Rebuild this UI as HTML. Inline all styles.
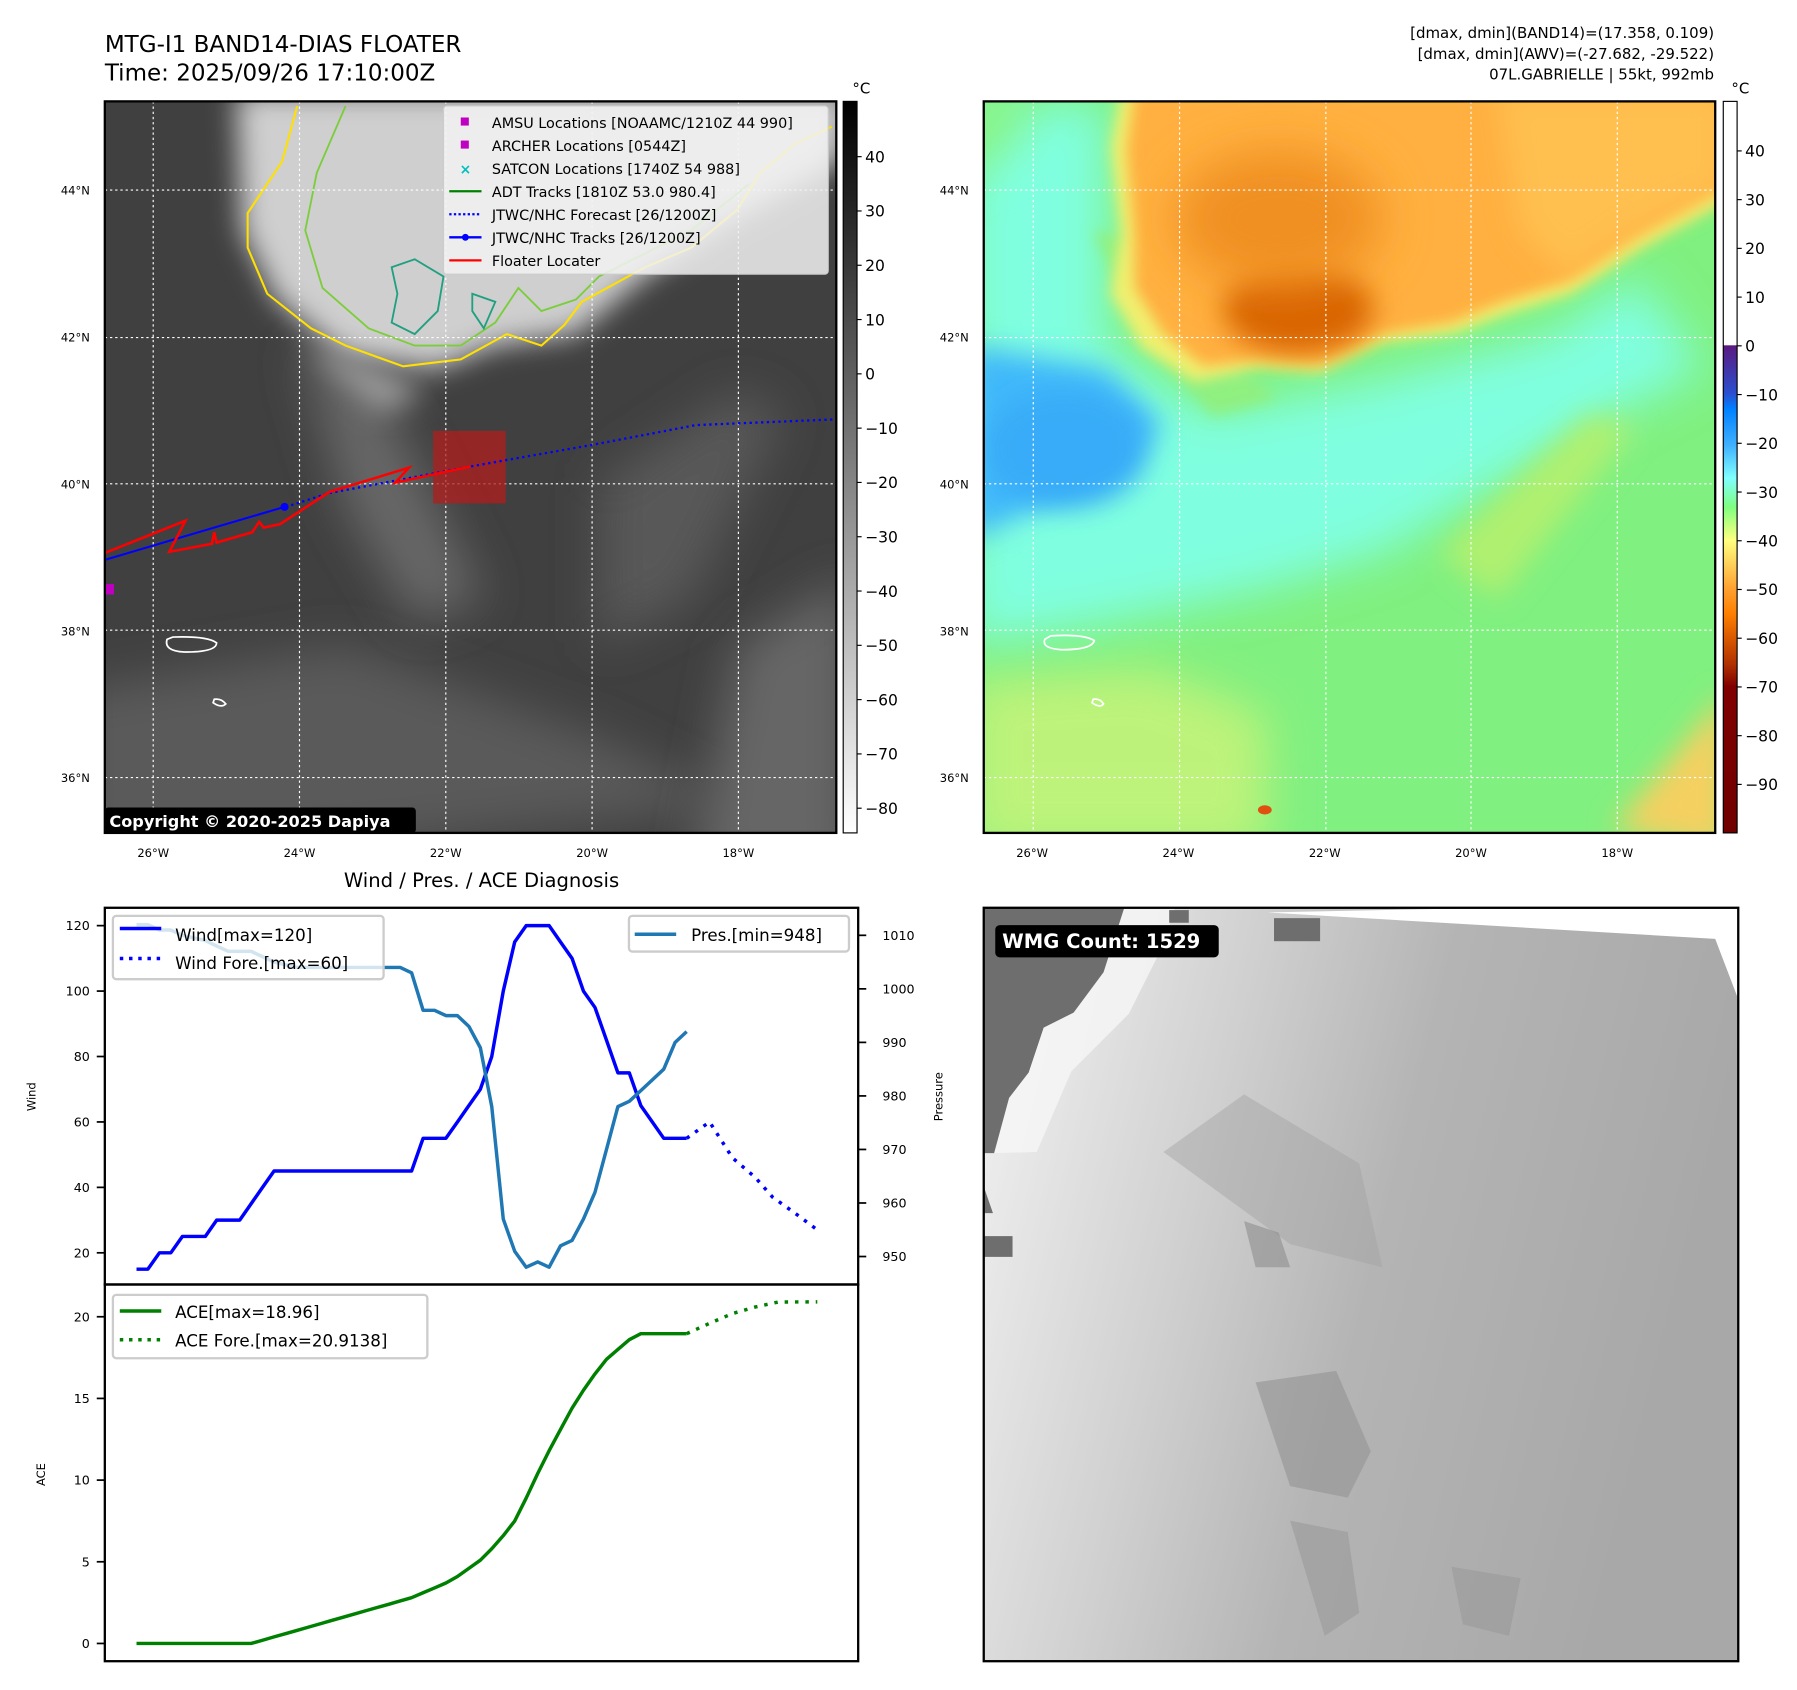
<!DOCTYPE html>
<html><head><meta charset="utf-8">
<style>
html,body{margin:0;padding:0;background:#fff;}
svg{display:block;}
text{font-family:"DejaVu Sans","Liberation Sans",sans-serif;}
</style></head>
<body>
<svg id="root" width="1797" height="1690" viewBox="0 0 1560 1467" preserveAspectRatio="none" xmlns="http://www.w3.org/2000/svg">
<defs>
<filter id="b6" x="-20%" y="-20%" width="140%" height="140%"><feGaussianBlur stdDeviation="6"/></filter>
<filter id="b12" x="-30%" y="-30%" width="160%" height="160%"><feGaussianBlur stdDeviation="12"/></filter>
<filter id="b20" x="-40%" y="-40%" width="180%" height="180%"><feGaussianBlur stdDeviation="20"/></filter>
<clipPath id="c1"><rect x="91" y="88" width="635" height="635"/></clipPath>
<clipPath id="c2"><rect x="854" y="88" width="635" height="635"/></clipPath>
<clipPath id="c3"><rect x="854" y="788" width="655" height="654"/></clipPath>
<linearGradient id="cb1" x1="0" y1="0" x2="0" y2="1"><stop offset="0" stop-color="#000"/><stop offset="1" stop-color="#fff"/></linearGradient>
<linearGradient id="cb2" x1="0" y1="0" x2="0" y2="1">
<stop offset="0" stop-color="#fff"/><stop offset="0.333" stop-color="#fff"/>
<stop offset="0.334" stop-color="#5a1a80"/><stop offset="0.40" stop-color="#2a50d0"/>
<stop offset="0.42" stop-color="#0080ff"/><stop offset="0.47" stop-color="#40b0ff"/>
<stop offset="0.515" stop-color="#80ffff"/><stop offset="0.555" stop-color="#80ff80"/>
<stop offset="0.60" stop-color="#ffff80"/><stop offset="0.667" stop-color="#ffa030"/>
<stop offset="0.70" stop-color="#ff8000"/><stop offset="0.77" stop-color="#b03000"/>
<stop offset="0.80" stop-color="#800000"/><stop offset="1" stop-color="#700000"/>
</linearGradient>
<linearGradient id="wmg" x1="0" y1="0" x2="1" y2="0.25"><stop offset="0" stop-color="#f4f4f4"/><stop offset="0.35" stop-color="#d0d0d0"/><stop offset="0.6" stop-color="#b4b4b4"/><stop offset="1" stop-color="#a8a8a8"/></linearGradient>
</defs>

<text x="91" y="45" font-size="20">MTG-I1 BAND14-DIAS FLOATER</text>
<text x="91" y="70" font-size="20">Time: 2025/09/26 17:10:00Z</text>
<text x="1488" y="33" font-size="13" text-anchor="end">[dmax, dmin](BAND14)=(17.358, 0.109)</text>
<text x="1488" y="51" font-size="13" text-anchor="end">[dmax, dmin](AWV)=(-27.682, -29.522)</text>
<text x="1488" y="69" font-size="13" text-anchor="end">07L.GABRIELLE | 55kt, 992mb</text>

<!-- MAP 1 -->
<g clip-path="url(#c1)">
<rect x="91" y="88" width="635" height="635" fill="#404040"/>
<path d="M60 600 L300 560 L520 640 L640 700 L60 760Z" fill="#5a5a5a" filter="url(#b20)"/>
<path d="M640 560 L740 500 L740 760 L600 760Z" fill="#666" filter="url(#b20)"/>
<path d="M260 300 L330 340 L380 440 L420 520 L360 540 L300 440Z" fill="#686868" filter="url(#b20)"/>
<path d="M520 420 L640 340 L680 360 L600 520 L520 560Z" fill="#585858" filter="url(#b20)"/>
<path d="M205 80 L740 80 L730 140 L640 190 L560 240 L500 290 L430 300 L380 320 L300 310 L240 260 L210 200Z" fill="#cfcfcf" filter="url(#b12)"/>
<path d="M260 300 L330 320 L370 340 L330 360Z" fill="#9a9a9a" filter="url(#b12)"/>
<path d="M258 92 L245 140 L215 185 L215 215 L232 255 L270 285 L300 300 L350 318 L400 312 L440 290 L470 300 L490 282 L505 262 L560 232 L600 215 L640 182 L660 150 L690 125 L722 110" fill="none" stroke="#ffe000" stroke-width="1.8"/>
<path d="M300 92 L275 150 L265 200 L280 250 L320 285 L360 300 L400 300 L430 280 L450 250 L470 270 L500 260 L520 240 L600 200 L650 160" fill="none" stroke="#7ccd3c" stroke-width="1.6"/>
<path d="M340 232 L360 225 L385 240 L380 270 L360 290 L340 280 L345 255Z M410 255 L430 262 L420 285 L410 270Z" fill="none" stroke="#20a080" stroke-width="1.6"/>
<path d="M145 555 Q142 565 160 566 Q188 566 188 558 Q180 552 150 553Z" fill="none" stroke="#fff" stroke-width="1.5"/>
<path d="M185 610 Q192 615 196 611 Q192 606 186 607Z" fill="none" stroke="#fff" stroke-width="1.5"/>
<g stroke="#fff" stroke-width="1" stroke-dasharray="2,2.5" fill="none">
<line x1="91" y1="165" x2="726" y2="165"/><line x1="91" y1="293" x2="726" y2="293"/><line x1="91" y1="420" x2="726" y2="420"/><line x1="91" y1="547" x2="726" y2="547"/><line x1="91" y1="675" x2="726" y2="675"/>
<line x1="133" y1="88" x2="133" y2="723"/><line x1="260" y1="88" x2="260" y2="723"/><line x1="387" y1="88" x2="387" y2="723"/><line x1="514" y1="88" x2="514" y2="723"/><line x1="641" y1="88" x2="641" y2="723"/>
</g>
<rect x="376" y="374" width="63" height="63" fill="#b01e1e" opacity="0.75"/>
<polyline points="248,440 286,428 408,405 515,386 604,369 726,364" fill="none" stroke="#0000ff" stroke-width="2" stroke-dasharray="2,3"/>
<polyline points="91,486 247,440" fill="none" stroke="#0000ff" stroke-width="1.8"/>
<circle cx="247" cy="440" r="3.5" fill="#0000ff"/>
<polyline points="91,480 161,452 147,479 184,472 186,462 188,471 219,462 225,453 229,458 243,455 286,427 355,406 343,419 408,405" fill="none" stroke="#ff0000" stroke-width="2.2"/>
<rect x="92" y="507" width="7" height="9" fill="#c000c0"/>
</g>
<rect x="91" y="88" width="635" height="635" fill="none" stroke="#000" stroke-width="2"/>
<g>
<rect x="385" y="92" width="334" height="146" rx="3" fill="#f2f2f2" fill-opacity="0.85" stroke="#ccc"/>
<rect x="400" y="102" width="7" height="7" fill="#c000c0"/><text x="427" y="111" font-size="12.5">AMSU Locations [NOAAMC/1210Z 44 990]</text>
<rect x="400" y="122" width="7" height="7" fill="#c000c0"/><text x="427" y="131" font-size="12.5">ARCHER Locations [0544Z]</text>
<text x="404" y="151" font-size="12" fill="#00c0c0" text-anchor="middle" font-weight="bold">×</text><text x="427" y="151" font-size="12.5">SATCON Locations [1740Z 54 988]</text>
<line x1="390" y1="166" x2="418" y2="166" stroke="#008000" stroke-width="2"/><text x="427" y="171" font-size="12.5">ADT Tracks [1810Z 53.0 980.4]</text>
<line x1="390" y1="186" x2="418" y2="186" stroke="#0000ff" stroke-width="2" stroke-dasharray="2,2"/><text x="427" y="191" font-size="12.5">JTWC/NHC Forecast [26/1200Z]</text>
<line x1="390" y1="206" x2="418" y2="206" stroke="#0000ff" stroke-width="2"/><circle cx="404" cy="206" r="3" fill="#0000ff"/><text x="427" y="211" font-size="12.5">JTWC/NHC Tracks [26/1200Z]</text>
<line x1="390" y1="226" x2="418" y2="226" stroke="#ff0000" stroke-width="2"/><text x="427" y="231" font-size="12.5">Floater Locater</text>
</g>
<rect x="91" y="701" width="270" height="22" rx="3" fill="#000"/>
<text x="95" y="718" font-size="14" font-weight="bold" fill="#fff">Copyright © 2020-2025 Dapiya</text>
<rect x="732" y="88" width="12" height="635" fill="url(#cb1)" stroke="#000" stroke-width="1"/>
<text x="740" y="81" font-size="13">°C</text>
<g id="cb1ticks" font-size="13.5"></g>

<!-- MAP 2 -->
<g clip-path="url(#c2)">
<rect x="854" y="88" width="635" height="635" fill="#80f080"/>
<path d="M840 590 L1000 580 L1100 620 L1100 740 L840 740Z" fill="#d8f478" opacity="0.7" filter="url(#b20)"/>
<path d="M1400 720 L1500 600 L1500 740Z" fill="#f4d060" filter="url(#b12)"/>
<path d="M840 90 L960 90 L960 300 L1050 360 L1200 330 L1350 290 L1420 240 L1480 320 L1400 360 L1300 420 L1200 480 L1100 510 L960 540 L840 560Z" fill="#80ffe0" filter="url(#b20)"/>
<path d="M820 70 L900 70 L880 130 L820 160Z" fill="#88f488" filter="url(#b20)"/>
<path d="M840 300 L960 320 L1010 370 L960 420 L900 440 L840 470Z" fill="#40b8fa" filter="url(#b12)"/>
<ellipse cx="925" cy="390" rx="70" ry="50" fill="#38acf8" filter="url(#b12)"/>
<path d="M1250 480 L1380 360 L1420 370 L1300 520Z" fill="#b0f070" filter="url(#b12)"/>
<path d="M949 200 L1000 300 L1053 361 L1110 345 L1050 300 L990 210Z" fill="#90f080" filter="url(#b6)"/>
<path d="M973 80 L964 128 L973 204 L964 255 L991 302 L1037 331 L1091 319 L1146 323 L1200 297 L1263 289 L1309 272 L1363 255 L1422 217 L1500 174 L1500 80Z" fill="#f0f070" filter="url(#b6)"/>
<path d="M985 80 L978 130 L985 205 L985 250 L1010 290 L1045 318 L1092 312 L1146 315 L1200 290 L1260 280 L1305 262 L1360 245 L1420 205 L1500 160 L1500 80Z" fill="#ffb040" filter="url(#b6)"/>
<path d="M1300 80 L1500 80 L1500 160 L1420 200 L1360 240 L1320 200Z" fill="#ffc050" filter="url(#b12)"/>
<ellipse cx="1127" cy="268" rx="65" ry="38" fill="#d86400" filter="url(#b12)"/>
<ellipse cx="1110" cy="190" rx="90" ry="60" fill="#f09020" filter="url(#b20)"/>
<path d="M907 555 Q904 563 922 564 Q948 564 950 556 Q940 550 912 552Z" fill="none" stroke="#fff" stroke-width="1.5"/>
<path d="M948 610 Q955 615 958 611 Q955 606 949 607Z" fill="none" stroke="#fff" stroke-width="1.5"/>
<ellipse cx="1098" cy="703" rx="6" ry="4" fill="#e05010"/>
<g stroke="#fff" stroke-width="1" stroke-dasharray="2,2.5" fill="none">
<line x1="854" y1="165" x2="1489" y2="165"/><line x1="854" y1="293" x2="1489" y2="293"/><line x1="854" y1="420" x2="1489" y2="420"/><line x1="854" y1="547" x2="1489" y2="547"/><line x1="854" y1="675" x2="1489" y2="675"/>
<line x1="897" y1="88" x2="897" y2="723"/><line x1="1024" y1="88" x2="1024" y2="723"/><line x1="1151" y1="88" x2="1151" y2="723"/><line x1="1277" y1="88" x2="1277" y2="723"/><line x1="1404" y1="88" x2="1404" y2="723"/>
</g>
</g>
<rect x="854" y="88" width="635" height="635" fill="none" stroke="#000" stroke-width="2"/>
<rect x="1496" y="88" width="12" height="635" fill="url(#cb2)" stroke="#000" stroke-width="1"/>
<text x="1503" y="81" font-size="13">°C</text>
<g id="cb2ticks" font-size="13.5"></g>
<g id="maplabels" font-size="10"></g>

<!-- WMG panel -->
<g clip-path="url(#c3)">
<rect x="854" y="788" width="655" height="654" fill="url(#wmg)"/>
<path d="M1489 815 L1510 870 L1510 788 L1300 788 L1100 792Z" fill="#fff"/>
<path d="M1010 1000 L1080 950 L1180 1010 L1200 1100 L1120 1080Z" fill="#a2a2a2" opacity="0.45"/>
<path d="M1080 1060 L1110 1070 L1120 1100 L1090 1100Z" fill="#8e8e8e" opacity="0.6"/>
<path d="M1090 1200 L1160 1190 L1190 1260 L1170 1300 L1120 1290Z" fill="#939393" opacity="0.6"/>
<path d="M1120 1320 L1170 1330 L1180 1400 L1150 1420Z" fill="#9a9a9a" opacity="0.6"/>
<path d="M1260 1360 L1320 1370 L1310 1420 L1270 1410Z" fill="#999" opacity="0.6"/>
<path d="M976 788 L958 844 L932 879 L906 892 L893 931 L876 953 L863 1001 L900 1000 L930 930 L980 880 L1010 820 L1020 788Z" fill="#f6f6f6" opacity="0.8"/>
<path d="M854 788 L976 788 L958 844 L932 879 L906 892 L893 931 L876 953 L863 1001 L854 1001Z" fill="#6e6e6e"/>
<path d="M854 1030 L862 1053 L854 1053Z M854 1073 L879 1073 L879 1091 L854 1091Z" fill="#6e6e6e"/>
<rect x="1015" y="790" width="17" height="11" fill="#6e6e6e"/>
<rect x="1106" y="797" width="40" height="20" fill="#6e6e6e"/>
</g>
<rect x="854" y="788" width="655" height="654" fill="none" stroke="#000" stroke-width="2"/>
<rect x="864" y="803" width="194" height="28" rx="4" fill="#000"/>
<text x="870" y="823" font-size="17" font-weight="bold" fill="#fff">WMG Count: 1529</text>

<!-- DIAGNOSIS CHART -->
<text x="418" y="770" font-size="17" text-anchor="middle">Wind / Pres. / ACE Diagnosis</text>
<g id="chart"></g>
<rect x="91" y="788" width="654" height="327" fill="none" stroke="#000" stroke-width="2"/>
<rect x="91" y="1115" width="654" height="327" fill="none" stroke="#000" stroke-width="2"/>
<g id="legends" font-size="14.5">
<rect x="98" y="795" width="235" height="55" rx="3" fill="#fff" fill-opacity="0.8" stroke="#ccc" stroke-width="2"/>
<line x1="104" y1="806" x2="140" y2="806" stroke="#0000ff" stroke-width="3"/><text x="152" y="817">Wind[max=120]</text>
<line x1="104" y1="832" x2="140" y2="832" stroke="#0000ff" stroke-width="3" stroke-dasharray="3,5"/><text x="152" y="841">Wind Fore.[max=60]</text>
<rect x="546" y="795" width="191" height="31" rx="3" fill="#fff" fill-opacity="0.8" stroke="#ccc" stroke-width="2"/>
<line x1="551" y1="811" x2="587" y2="811" stroke="#1f77b4" stroke-width="3"/><text x="600" y="817">Pres.[min=948]</text>
<rect x="98" y="1124" width="273" height="55" rx="3" fill="#fff" fill-opacity="0.8" stroke="#ccc" stroke-width="2"/>
<line x1="104" y1="1138" x2="140" y2="1138" stroke="#008000" stroke-width="3"/><text x="152" y="1144">ACE[max=18.96]</text>
<line x1="104" y1="1163" x2="140" y2="1163" stroke="#008000" stroke-width="3" stroke-dasharray="3,5"/><text x="152" y="1169">ACE Fore.[max=20.9138]</text>
</g>
<text transform="translate(31,952) rotate(-90)" font-size="10" text-anchor="middle">Wind</text>
<text transform="translate(818,952) rotate(-90)" font-size="10" text-anchor="middle">Pressure</text>
<text transform="translate(39,1280) rotate(-90)" font-size="10" text-anchor="middle">ACE</text>
</svg>
<script>
const windVals=[15,15,20,20,25,25,25,30,30,30,35,40,45,45,45,45,45,45,45,45,45,45,45,45,45,55,55,55,60,65,70,80,100,115,120,120,120,115,110,100,95,85,75,75,65,60,55,55,55];
const windForeIdx=[48,50,52,54,55.5,57.5,59.4];
const windForeVals=[55,60,49,43,37,32,27];
const presVals=[1012,1012,1011,1011,1010,1009.5,1009,1008,1007,1007,1007,1006,1005,1004.5,1004,1004,1004,1004,1004,1004,1004,1004,1004,1004,1003,996,996,995,995,993,989,978,957,951,948,949,948,952,953,957,962,970,978,979,981,983,985,990,992];
const aceVals=[0,0,0,0,0,0,0,0,0,0,0,0.2,0.4,0.6,0.8,1.0,1.2,1.4,1.6,1.8,2.0,2.2,2.4,2.6,2.8,3.1,3.4,3.7,4.1,4.6,5.1,5.8,6.6,7.5,8.9,10.4,11.8,13.1,14.4,15.5,16.5,17.4,18.0,18.6,18.96,18.96,18.96,18.96,18.96];
const aceForeIdx=[48,50,52,54,56,59.4];
const aceForeVals=[18.96,19.6,20.2,20.6,20.9,20.91];
const windTicks=[20,40,60,80,100,120];
const presTicks=[950,960,970,980,990,1000,1010];
const aceTicks=[0,5,10,15,20];
const cb1Ticks=[40,30,20,10,0,-10,-20,-30,-40,-50,-60,-70,-80];
const cb2Ticks=[40,30,20,10,0,-10,-20,-30,-40,-50,-60,-70,-80,-90];
const latTicks=[44,42,40,38,36];
const lonTicks=[26,24,22,20,18];

const NS='http://www.w3.org/2000/svg';
const xS=i=>118.5+9.95*i;
const yW=v=>803.5+(120-v)*2.84;
const yP=p=>811.9+(1010-p)*4.647;
const yA=a=>1426.6-a*14.18;
function mk(tag,attrs,parent){const e=document.createElementNS(NS,tag);for(const k in attrs)e.setAttribute(k,attrs[k]);parent.appendChild(e);return e;}
const chart=document.getElementById('chart');
function line(xs,ys,col,dash,name){
  const pts=xs.map((x,k)=>xS(x).toFixed(1)+','+ys[k].toFixed(1)).join(' ');
  const p=mk('polyline',{points:pts,fill:'none',stroke:col,'stroke-width':3,'stroke-linejoin':'round'},chart);
  if(dash)p.setAttribute('stroke-dasharray',dash);
  
  
}
line(windVals.map((v,i)=>i),windVals.map(yW),'#0000ff',null,'wind-line');
line(windForeIdx,windForeVals.map(yW),'#0000ff','3,6','wind-forecast-line');
line(presVals.map((v,i)=>i),presVals.map(yP),'#1f77b4',null,'pressure-line');
line(aceVals.map((v,i)=>i),aceVals.map(yA),'#008000',null,'ace-line');
line(aceForeIdx,aceForeVals.map(yA),'#008000','3,6','ace-forecast-line');
function tick(x1,y,x2,tx,anchor,label,name){
  mk('line',{x1:x1,y1:y,x2:x2,y2:y,stroke:'#000','stroke-width':1.5},chart);
  const t=mk('text',{x:tx,y:y+4,'font-size':11,'text-anchor':anchor},chart);
  t.textContent=label;
  
  
}
windTicks.forEach(v=>tick(84,yW(v),91,78,'end',v,'wind-tick'));
presTicks.forEach(v=>tick(745,yP(v),752,766,'start',v,'pressure-tick'));
aceTicks.forEach(v=>tick(84,yA(v),91,78,'end',v,'ace-tick'));
const cb1=document.getElementById('cb1ticks');
cb1Ticks.forEach(v=>{const y=136+(40-v)*4.713;
  mk('line',{x1:744,y1:y,x2:748,y2:y,stroke:'#000'},cb1);
  const t=mk('text',{x:751,y:y+5},cb1);t.textContent=(v<0?'\u2212'+(-v):v);
  
  });
const cb2=document.getElementById('cb2ticks');
cb2Ticks.forEach(v=>{const y=131+(40-v)*4.23;
  mk('line',{x1:1508,y1:y,x2:1512,y2:y,stroke:'#000'},cb2);
  const t=mk('text',{x:1515,y:y+5},cb2);t.textContent=(v<0?'\u2212'+(-v):v);
  
  });
const ml=document.getElementById('maplabels');
[91,854].forEach(x0=>{
  latTicks.forEach(l=>{const y=165+(44-l)*63.75;
    const t=mk('text',{x:x0-13,y:y+4,'text-anchor':'end'},ml);t.textContent=l+'°N';
    
    });
  lonTicks.forEach(l=>{const x=x0+42+(26-l)*63.5;
    const t=mk('text',{x:x,y:744,'text-anchor':'middle'},ml);t.textContent=l+'°W';
    
    });
});
</script>
</body></html>
